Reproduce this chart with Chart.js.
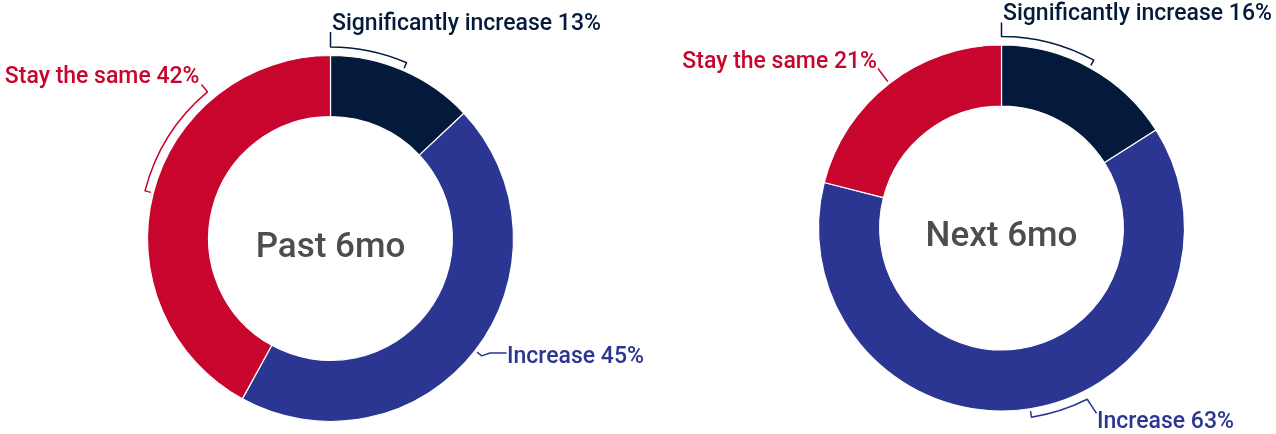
<!DOCTYPE html>
<html>
<head>
<meta charset="utf-8">
<script src="https://cdn.jsdelivr.net/npm/chart.js@4.4.1/dist/chart.umd.min.js"></script>
<style>
    html, body { margin: 0; padding: 0; background: #fff; }
    .wrap { position: relative; width: 1276px; height: 434px; }
    .pane { position: absolute; top: 0; height: 434px; }
    #paneLeft { left: 0; width: 661px; }
    #paneRight { left: 661px; width: 615px; }
</style>
</head>
<body>
<div class="wrap">
    <div class="pane" id="paneLeft"><canvas id="chartPast"></canvas></div>
    <div class="pane" id="paneRight"><canvas id="chartNext"></canvas></div>
</div>
<script>
const sliceLabels = ['Significantly increase', 'Increase', 'Stay the same'];
const pastValues = [13, 45, 42];
const nextValues = [16, 63, 21];
const sliceColors = ['#041A3B', '#2B3592', '#C8052D'];

const FONT = 'Roboto, "Open Sans", sans-serif';

// Callout brackets: an arc just outside the ring from the slice middle to `end`
// (degrees clockwise from 12 o'clock), then a leader to the text.
const calloutPlugin = {
    id: 'callouts',
    afterDatasetsDraw(chart, args, opts) {
        const ctx = chart.ctx;
        const meta = chart.getDatasetMeta(0);
        const values = chart.data.datasets[0].data;
        const toRad = d => (d - 90) * Math.PI / 180;

        meta.data.forEach((arc, i) => {
            const c = opts.items[i];
            if (!c) return;
            const cx = arc.x, cy = arc.y;
            const rTick = arc.outerRadius + 2.5;
            const rArc = arc.outerRadius + 8.5;
            const mid = (arc.startAngle + arc.endAngle) / 2;
            const end = c.end === null ? mid : toRad(c.end);
            const color = sliceColors[i];

            ctx.save();
            ctx.strokeStyle = color;
            ctx.lineWidth = 1.5;
            ctx.lineJoin = 'round';
            ctx.beginPath();
            ctx.moveTo(cx + rTick * Math.cos(mid), cy + rTick * Math.sin(mid));
            ctx.lineTo(cx + rArc * Math.cos(mid), cy + rArc * Math.sin(mid));
            if (end !== mid) ctx.arc(cx, cy, rArc, mid, end, end < mid);
            c.path.forEach(p => ctx.lineTo(cx + p[0], cy + p[1]));
            ctx.stroke();

            ctx.fillStyle = color;
            ctx.font = '500 23px ' + FONT;
            ctx.textAlign = c.align;
            ctx.textBaseline = 'alphabetic';
            ctx.fillText(chart.data.labels[i] + ' ' + values[i] + '%', cx + c.text[0], cy + c.text[1]);
            ctx.restore();
        });

        const arc0 = meta.data[0];
        ctx.save();
        ctx.fillStyle = '#4D4D4D';
        ctx.font = '500 35px ' + FONT;
        ctx.textAlign = 'center';
        ctx.textBaseline = 'alphabetic';
        ctx.fillText(opts.title, arc0.x, arc0.y + 18);
        ctx.restore();
    }
};

function RingChart(canvas, options) {
    new Chart(canvas, {
        type: 'doughnut',
        data: {
            labels: sliceLabels,
            datasets: [{
                data: options.data,
                backgroundColor: sliceColors,
                borderColor: '#ffffff',
                borderWidth: 1.2,
                hoverOffset: 0
            }]
        },
        options: {
            responsive: true,
            maintainAspectRatio: false,
            animation: false,
            radius: 183,
            cutout: '66.6%',
            layout: {
                padding: options.padding
            },
            events: [],
            plugins: {
                legend: { display: false },
                tooltip: { enabled: false },
                callouts: {
                    title: options.title,
                    items: options.callouts
                }
            }
        },
        plugins: [calloutPlugin]
    });
}

RingChart(document.getElementById('chartPast'), {
    data: pastValues,
    title: 'Past 6mo',
    padding: { top: 43, bottom: 0, left: 0, right: 0 },
    callouts: [
        { end: 0, path: [[0, -206.5]], text: [1.5, -209], align: 'left' },
        { end: null, path: [[159.5, 114.5], [176, 114.5]], text: [176.5, 124.5], align: 'left' },
        { end: 320, path: [[-129, -154]], text: [-131, -155.5], align: 'right' }
    ]
});

RingChart(document.getElementById('chartNext'), {
    data: nextValues,
    title: 'Next 6mo',
    padding: { top: 22, bottom: 0, left: 66, right: 0 },
    callouts: [
        { end: 0, path: [[0, -205.5]], text: [1.5, -208], align: 'left' },
        { end: 153.4, path: [[95, 185.3]], text: [95.5, 200], align: 'left' },
        { end: null, path: [[-123.5, -159.5]], text: [-124.5, -160], align: 'right' }
    ]
});
</script>
</body>
</html>
